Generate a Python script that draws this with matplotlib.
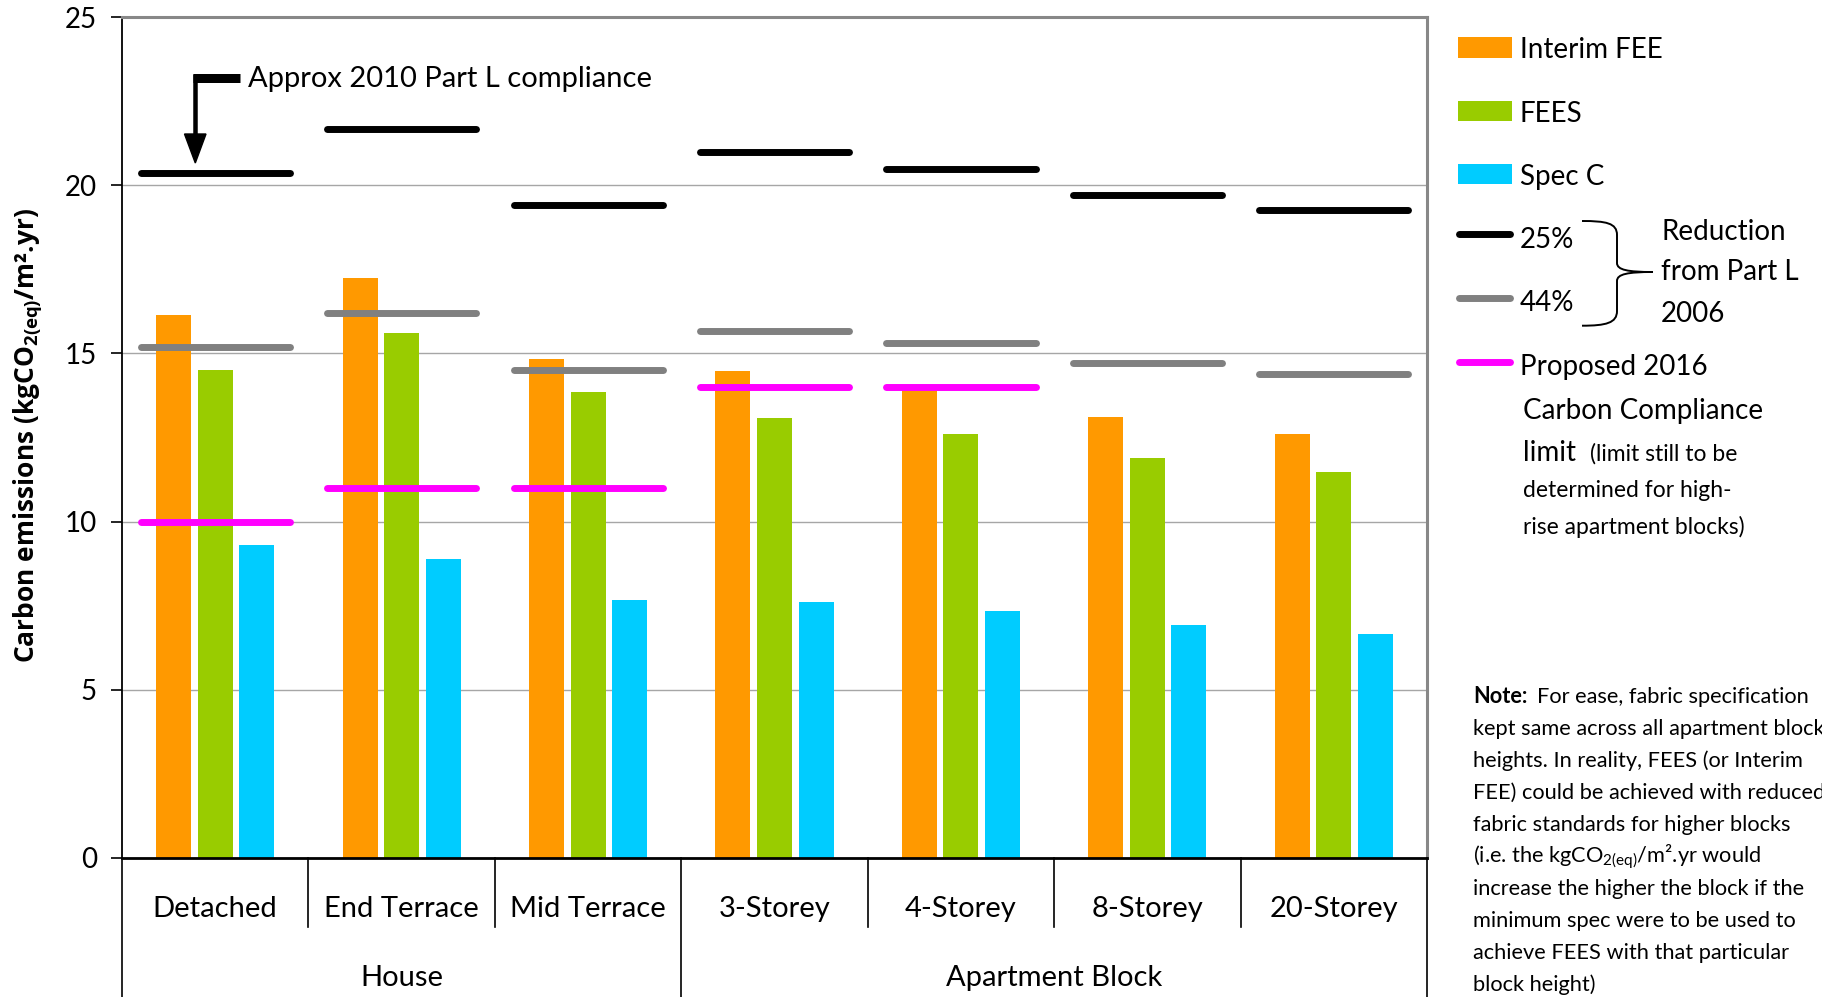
import numpy as np
import matplotlib
matplotlib.use('Agg')
import matplotlib.pyplot as plt
import matplotlib.transforms as mtransforms
from matplotlib.path import Path
from matplotlib.patches import PathPatch, Rectangle, Polygon
from matplotlib.lines import Line2D

plt.rcParams['font.family'] = ['Lato', 'DejaVu Sans']
plt.rcParams['mathtext.default'] = 'regular'

# ---------------- data ----------------
categories = ['Detached', 'End Terrace', 'Mid Terrace', '3-Storey', '4-Storey', '8-Storey', '20-Storey']
groups = ['House', 'Apartment Block']
group_sizes = [3, 4]
series_names = ['Interim FEE', 'FEES', 'Spec C']
interim_fee = [16.15, 17.25, 14.84, 14.48, 13.95, 13.11, 12.60]
fees = [14.51, 15.61, 13.86, 13.08, 12.61, 11.89, 11.48]
spec_c = [9.30, 8.89, 7.67, 7.61, 7.34, 6.92, 6.65]
line_names = ['25%', '44%', 'Proposed 2016']
reduction_25 = [20.38, 21.68, 19.41, 21.00, 20.49, 19.72, 19.26]
reduction_44 = [15.20, 16.19, 14.50, 15.68, 15.31, 14.73, 14.38]
proposed_2016 = [10.0, 11.0, 11.0, 14.0, 14.0, None, None]
yticks = [0, 5, 10, 15, 20, 25]

C_ORANGE, C_GREEN, C_CYAN = '#FF9900', '#99CC00', '#00CCFF'
C_BLACK, C_GRAY, C_MAGENTA = '#000000', '#808080', '#FF00FF'

# ---------------- figure ----------------
W, H = 1822, 997
fig = plt.figure(figsize=(W / 100, H / 100), dpi=100)
pix = mtransforms.Affine2D().scale(1.0 / W, -1.0 / H).translate(0, 1) + fig.transFigure

ax_left, ax_right, ax_top, ax_bottom = 122, 1427, 17.4, 857.6
ah = ax_bottom - ax_top
ax = fig.add_axes([ax_left / W, 1 - ax_bottom / H, (ax_right - ax_left) / W, ah / H])

x = np.arange(len(categories))
bw, off = 0.188, 0.223
ax.bar(x - off, interim_fee, bw, color=C_ORANGE, zorder=2, linewidth=0)
ax.bar(x, fees, bw, color=C_GREEN, zorder=2, linewidth=0)
ax.bar(x + off, spec_c, bw, color=C_CYAN, zorder=2, linewidth=0)

half = 0.40
def level_lines(vals, color):
    for xi, v in zip(x, vals):
        if v is None:
            continue
        ax.plot([xi - half, xi + half], [v, v], color=color, lw=5.0,
                solid_capstyle='round', zorder=4)

level_lines(reduction_25, C_BLACK)
level_lines(reduction_44, C_GRAY)
level_lines(proposed_2016, C_MAGENTA)

ax.set_xlim(-0.5, len(categories) - 0.5)
ax.set_ylim(0, 25)
ax.set_yticks(yticks)
ax.set_xticks([])
ax.yaxis.grid(True, color='#A6A6A6', lw=1.0)
ax.set_axisbelow(True)
ax.tick_params(axis='y', direction='out', length=8, width=1.2, labelsize=20, pad=10)
for s in ['top', 'right']:
    ax.spines[s].set_color('#888888')
    ax.spines[s].set_linewidth(2.2)
ax.spines['left'].set_color('black')
ax.spines['left'].set_linewidth(1.3)
ax.spines['bottom'].set_color('black')
ax.spines['bottom'].set_linewidth(2.0)

# ---------------- multi-level x axis ----------------
trans = ax.get_xaxis_transform()
def yfrac(py):
    return (ax_bottom - py) / ah

bounds = np.arange(len(categories) + 1) - 0.5
gb = set((np.concatenate([[0], np.cumsum(group_sizes)]) - 0.5).tolist())
for b in bounds:
    yend = yfrac(H + 2) if b in gb else yfrac(927)
    ax.plot([b, b], [0, yend], transform=trans, color='black', lw=1.2,
            clip_on=False, zorder=5)

for xi, c in zip(x, categories):
    ax.text(xi, yfrac(917), c, transform=trans, ha='center', va='baseline', fontsize=21)
starts = np.concatenate([[0], np.cumsum(group_sizes)[:-1]])
for g, s, n in zip(groups, starts, group_sizes):
    ax.text(s + (n - 1) / 2, yfrac(986), g, transform=trans, ha='center',
            va='baseline', fontsize=21)

# ---------------- y label ----------------
fig.text(28, 435, 'Carbon emissions (kgCO$_{2(eq)}$/m².yr)', transform=pix,
         rotation=90, ha='center', va='center', fontsize=19,
         family='Open Sans', fontweight='bold')

# ---------------- callout ----------------
fig.add_artist(Line2D([193, 240], [78.5, 78.5], transform=pix, color='black',
                      lw=9 * 0.72, solid_capstyle='butt'))
fig.add_artist(Line2D([195.3, 195.3], [74, 136], transform=pix, color='black',
                      lw=4.5 * 0.72, solid_capstyle='butt'))
fig.add_artist(Polygon([[184.5, 134], [206, 134], [195.3, 163]], closed=True,
                       transform=pix, color='black'))
fig.text(248, 87, 'Approx 2010 Part L compliance', transform=pix, fontsize=21,
         va='baseline')

# ---------------- legend ----------------
LFS = 20
for name, col, ytop in zip(series_names, [C_ORANGE, C_GREEN, C_CYAN], [37.3, 101, 164]):
    fig.add_artist(Rectangle((1458, ytop), 54, 20.4, transform=pix, color=col, lw=0))
    fig.text(1520, ytop + 20.5, name, transform=pix, fontsize=LFS, va='baseline')

for name, col, yl in zip(line_names, [C_BLACK, C_GRAY, C_MAGENTA], [234.3, 297.7, 361.7]):
    fig.add_artist(Line2D([1459, 1510], [yl, yl], transform=pix, color=col, lw=5.0,
                          solid_capstyle='round'))
    fig.text(1520, yl + 13.4, name, transform=pix, fontsize=LFS, va='baseline')

fig.text(1523, 419.3, 'Carbon Compliance', transform=pix, fontsize=LFS, va='baseline')
fig.text(1523, 460.7, 'limit', transform=pix, fontsize=LFS, va='baseline')
fig.text(1590, 460.7, '(limit still to be', transform=pix, fontsize=16.5, va='baseline')
fig.text(1523, 497.3, 'determined for high-', transform=pix, fontsize=16.5, va='baseline')
fig.text(1523, 533.5, 'rise apartment blocks)', transform=pix, fontsize=16.5, va='baseline')

# brace
verts = [(1582, 221), (1606, 221), (1617, 223), (1617, 235),
         (1617, 263),
         (1617, 270), (1628, 272), (1653, 272),
         (1628, 272), (1617, 274), (1617, 281),
         (1617, 311),
         (1617, 323), (1606, 325.7), (1582, 325.7)]
codes = [Path.MOVETO, Path.CURVE4, Path.CURVE4, Path.CURVE4,
         Path.LINETO,
         Path.CURVE4, Path.CURVE4, Path.CURVE4,
         Path.CURVE4, Path.CURVE4, Path.CURVE4,
         Path.LINETO,
         Path.CURVE4, Path.CURVE4, Path.CURVE4]
fig.add_artist(PathPatch(Path(verts, codes), transform=pix, fill=False, lw=1.4,
                         edgecolor='black'))
fig.text(1661, 240, 'Reduction', transform=pix, fontsize=LFS, va='baseline')
fig.text(1661, 280, 'from Part L', transform=pix, fontsize=LFS, va='baseline')
fig.text(1661, 321.7, '2006', transform=pix, fontsize=LFS, va='baseline')

# ---------------- note ----------------
NFS = 15.7
fig.text(1473, 703, 'Note:', transform=pix, fontsize=NFS, va='baseline', fontweight='bold')
fig.text(1537, 703, 'For ease, fabric specification', transform=pix, fontsize=NFS,
         va='baseline')
note_lines = ['kept same across all apartment block',
              'heights. In reality, FEES (or Interim',
              'FEE) could be achieved with reduced',
              'fabric standards for higher blocks',
              '(i.e. the kgCO$_{2(eq)}$/m².yr would',
              'increase the higher the block if the',
              'minimum spec were to be used to',
              'achieve FEES with that particular',
              'block height)']
for i, ln in enumerate(note_lines):
    fig.text(1473, 735 + 32 * i, ln, transform=pix, fontsize=NFS, va='baseline')

fig.savefig('out.png', dpi=100, facecolor='white')
